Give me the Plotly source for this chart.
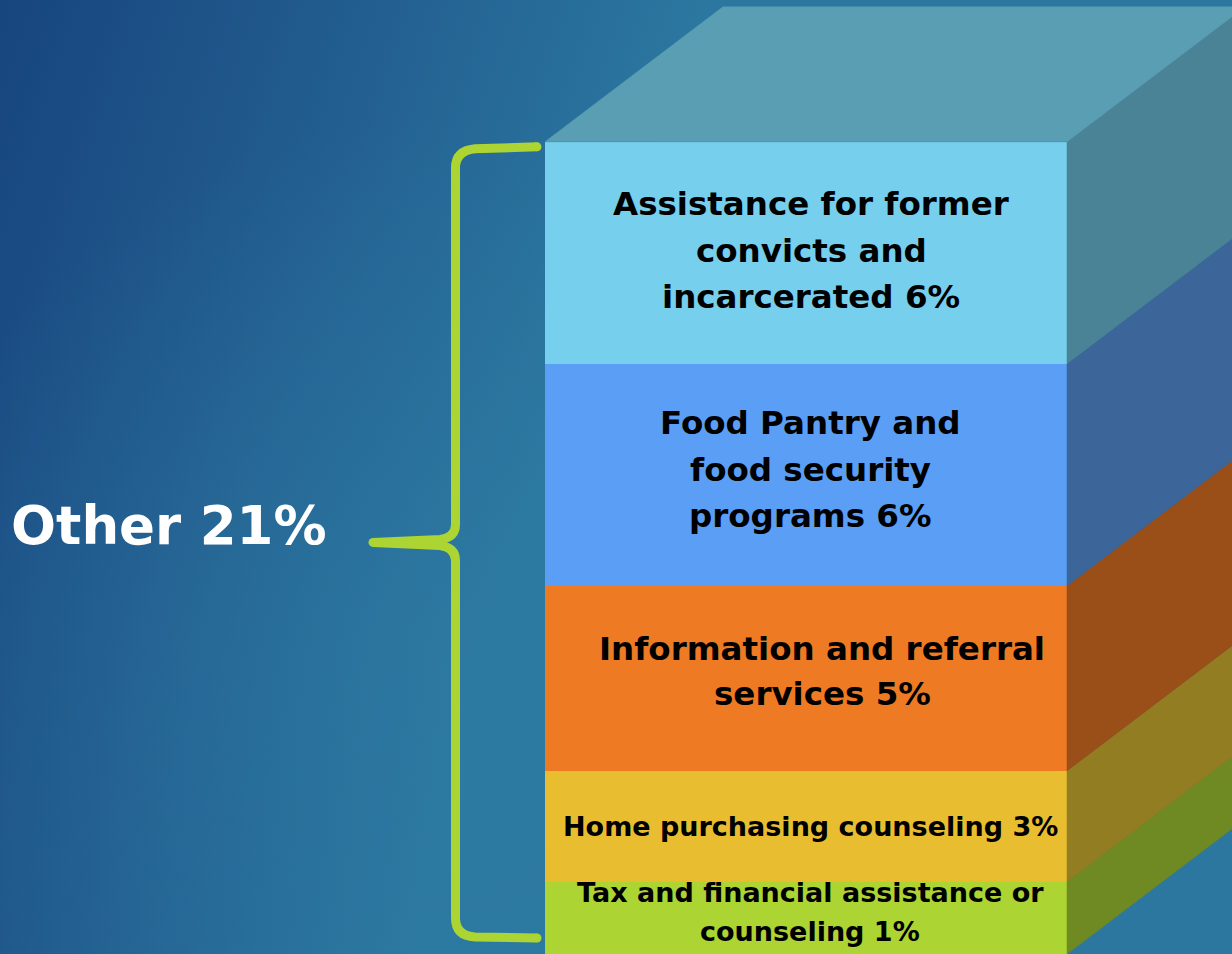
import base64
import plotly.graph_objects as go

# ---------------- data (bottom -> top) ----------------
categories = [
    "Tax and financial assistance or counseling",
    "Home purchasing counseling",
    "Information and referral services",
    "Food Pantry and food security programs",
    "Assistance for former convicts and incarcerated",
]
percent = [1, 3, 5, 6, 6]
# segment heights as drawn in the picture (the bottom slab is cut by the frame)
drawn_height = [1.95, 3, 5, 6, 6]
label_lines = [
    ["Tax and financial assistance or", "counseling"],
    ["Home purchasing counseling"],
    ["Information and referral", "services"],
    ["Food Pantry and", "food security", "programs"],
    ["Assistance for former", "convicts and", "incarcerated"],
]
group_label = "Other"
group_total = sum(percent)

# ---------------- style ----------------
front_colors = ["#acd432", "#e8be30", "#ee7a24", "#5a9ef5", "#75cfed"]
side_colors = ["#6f8a22", "#927d22", "#9a4e18", "#3c6599", "#4a8396"]
top_color = "#5a9eb4"
brace_color = "#acd432"
font_sizes = [27, 27, 32.5, 32.5, 32.5]
line_gaps = [39, 39, 45, 46.5, 46.5]
x_shifts = [4, 4, 16, 4, 5]
y_shifts = [6, 0, 7, 5, 2]

W, H = 1232, 954
PX_X = 522.0   # pixels per x unit (bar width = 1)
PX_Y = 37.0    # pixels per percent
BAR_CENTER_PX = 806.0
DEPTH_DX = 178 / PX_X
DEPTH_DY = 135 / PX_Y

x_range = [-BAR_CENTER_PX / PX_X, (W - BAR_CENTER_PX) / PX_X]
y_range = [0, H / PX_Y]

fig = go.Figure()

# cumulative bounds
bottoms, tops = [], []
acc = 0.0
for h in drawn_height:
    bottoms.append(acc)
    acc += h
    tops.append(acc)
total_top = acc

# side faces
for b, t, c in zip(bottoms, tops, side_colors):
    fig.add_trace(go.Scatter(
        x=[0.5, 0.5 + DEPTH_DX, 0.5 + DEPTH_DX, 0.5, 0.5],
        y=[b, b + DEPTH_DY, t + DEPTH_DY, t, b],
        fill="toself", fillcolor=c, mode="lines",
        line=dict(color=c, width=0.5), hoverinfo="skip", showlegend=False))

# top face
fig.add_trace(go.Scatter(
    x=[-0.5, -0.5 + DEPTH_DX, 0.5 + DEPTH_DX, 0.5, -0.5],
    y=[total_top, total_top + DEPTH_DY, total_top + DEPTH_DY, total_top, total_top],
    fill="toself", fillcolor=top_color, mode="lines",
    line=dict(color=top_color, width=0.5), hoverinfo="skip", showlegend=False))

# front faces (stacked bars)
for cat, h, c in zip(categories, drawn_height, front_colors):
    fig.add_trace(go.Bar(x=[0], y=[h], width=1, name=cat,
                         marker=dict(color=c, line=dict(width=0)),
                         hoverinfo="name", showlegend=False))

# labels
annotations = []
for i, (lines, pct) in enumerate(zip(label_lines, percent)):
    lines = list(lines)
    lines[-1] = f"{lines[-1]} {pct}%"
    yc = (bottoms[i] + tops[i]) / 2
    n = len(lines)
    for j, ln in enumerate(lines):
        off = ((n - 1) / 2 - j) * line_gaps[i]
        annotations.append(dict(
            x=0, y=yc, xref="x", yref="y", text=ln, showarrow=False,
            xanchor="center", yanchor="middle",
            xshift=x_shifts[i], yshift=y_shifts[i] + off,
            font=dict(family="DejaVu Sans", size=font_sizes[i], color="#000000", weight="bold")))

# curly brace, built from the bar's top and bottom
left = -0.5
def bx(px):
    return left + px / PX_X
def by_top(px):
    return total_top - px / PX_Y
def by_bot(px):
    return 0 + px / PX_Y

mid = (by_top(5) + by_bot(16)) / 2
xs_end, xs_arm, xs_stem, xs_tip = bx(-8), bx(-70), bx(-89.5), bx(-172)
xs_c = bx(-105)
path = (
    f"M {xs_end},{by_top(5)} "
    f"L {xs_arm},{by_top(7)} "
    f"Q {xs_stem},{by_top(9)} {xs_stem},{by_top(26)} "
    f"L {xs_stem},{mid + 18/PX_Y} "
    f"Q {xs_stem},{mid + 5/PX_Y} {xs_c},{mid + 3/PX_Y} "
    f"L {xs_tip},{mid} "
    f"L {xs_c},{mid - 3/PX_Y} "
    f"Q {xs_stem},{mid - 5/PX_Y} {xs_stem},{mid - 18/PX_Y} "
    f"L {xs_stem},{by_bot(36)} "
    f"Q {xs_stem},{by_bot(18)} {xs_arm},{by_bot(17)} "
    f"L {xs_end},{by_bot(16)}"
)
shapes = [dict(type="path", path=path, xref="x", yref="y",
               line=dict(color=brace_color, width=9), fillcolor="rgba(0,0,0,0)")]
# rounded ends
fig.add_trace(go.Scatter(x=[xs_end, xs_end, xs_tip], y=[by_top(5), by_bot(16), mid],
                         mode="markers", marker=dict(color=brace_color, size=9),
                         hoverinfo="skip", showlegend=False))

annotations.append(dict(
    x=xs_tip, y=mid, xref="x", yref="y", text=f"{group_label} {group_total}%",
    showarrow=False, xanchor="right", yanchor="middle", xshift=-44, yshift=17,
    font=dict(family="DejaVu Sans", size=53, color="#ffffff", weight="bold")))

# background gradient as an inline SVG image
svg = (
    f"<svg xmlns='http://www.w3.org/2000/svg' width='{W}' height='{H}'>"
    "<defs><linearGradient id='g' x1='0' y1='0' x2='640' y2='200' gradientUnits='userSpaceOnUse'>"
    "<stop offset='0' stop-color='#17457e'/>"
    "<stop offset='0.45' stop-color='#215a8d'/>"
    "<stop offset='1' stop-color='#2b77a0'/>"
    "</linearGradient>"
    "<radialGradient id='r' cx='420' cy='640' r='520' gradientUnits='userSpaceOnUse'>"
    "<stop offset='0' stop-color='#2f7fa6' stop-opacity='0.45'/>"
    "<stop offset='1' stop-color='#2f7fa6' stop-opacity='0'/>"
    "</radialGradient></defs>"
    f"<rect width='{W}' height='{H}' fill='url(#g)'/>"
    f"<rect width='{W}' height='{H}' fill='url(#r)'/>"
    "</svg>"
)
src = "data:image/svg+xml;base64," + base64.b64encode(svg.encode()).decode()

fig.update_layout(
    width=W, height=H, margin=dict(l=0, r=0, t=0, b=0),
    paper_bgcolor="#22608f", plot_bgcolor="rgba(0,0,0,0)",
    barmode="stack", bargap=0,
    xaxis=dict(range=x_range, visible=False, fixedrange=True),
    yaxis=dict(range=y_range, visible=False, fixedrange=True),
    annotations=annotations, shapes=shapes,
    images=[dict(source=src, xref="paper", yref="paper", x=0, y=1,
                 sizex=1, sizey=1, xanchor="left", yanchor="top",
                 sizing="stretch", layer="below")],
)

fig.write_html(
    "out.html",
    config={"displayModeBar": False},
    post_script="document.body.style.margin='0';document.body.style.padding='0';"
                "document.body.style.overflow='hidden';",
)
